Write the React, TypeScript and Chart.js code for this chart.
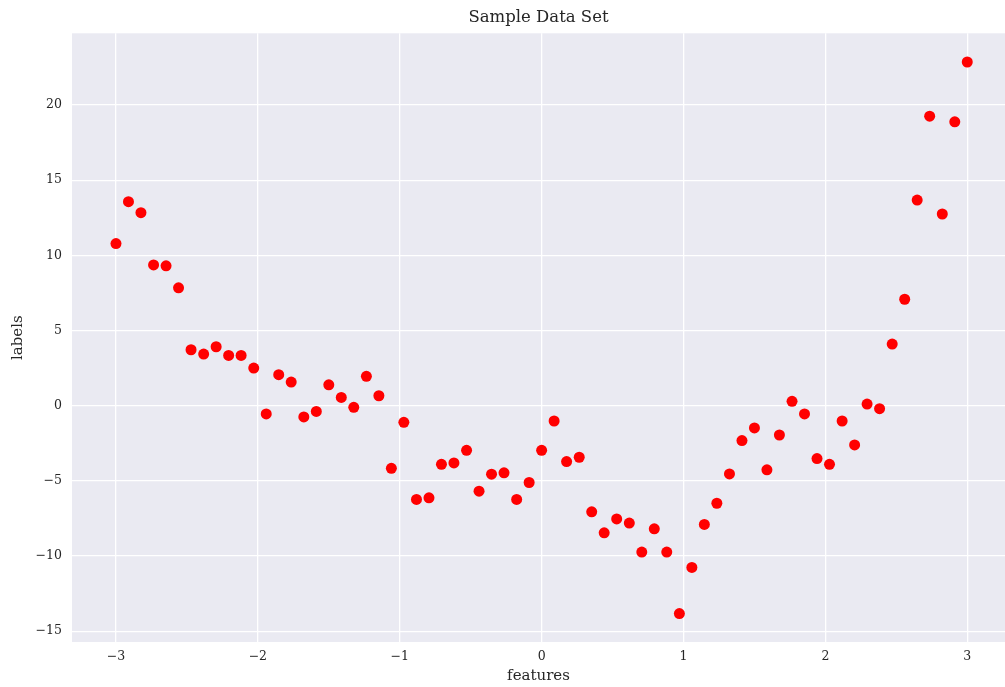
import React, { useEffect, useRef } from "react";
import { Chart, registerables } from "chart.js";

Chart.register(...registerables);

const xValues: number[] = [
  -3.0, -2.912, -2.824, -2.735, -2.647, -2.559, -2.471, -2.382, -2.294, -2.206,
  -2.118, -2.029, -1.941, -1.853, -1.765, -1.676, -1.588, -1.5, -1.412, -1.324,
  -1.235, -1.147, -1.059, -0.971, -0.882, -0.794, -0.706, -0.618, -0.529, -0.441,
  -0.353, -0.265, -0.176, -0.088, 0.0, 0.088, 0.176, 0.265, 0.353, 0.441,
  0.529, 0.618, 0.706, 0.794, 0.882, 0.971, 1.059, 1.147, 1.235, 1.324,
  1.412, 1.5, 1.588, 1.676, 1.765, 1.853, 1.941, 2.029, 2.118, 2.206,
  2.294, 2.382, 2.471, 2.559, 2.647, 2.735, 2.824, 2.912, 3.0,
];

const yValues: number[] = [
  10.78, 13.57, 12.84, 9.36, 9.3, 7.84, 3.72, 3.43, 3.92, 3.34,
  3.34, 2.5, -0.55, 2.06, 1.57, -0.75, -0.38, 1.39, 0.55, -0.11,
  1.95, 0.66, -4.17, -1.11, -6.24, -6.13, -3.9, -3.81, -2.97, -5.69,
  -4.56, -4.47, -6.24, -5.11, -2.97, -1.02, -3.72, -3.43, -7.06, -8.46,
  -7.53, -7.81, -9.74, -8.19, -9.74, -13.83, -10.76, -7.9, -6.49, -4.54,
  -2.32, -1.48, -4.27, -1.95, 0.29, -0.55, -3.52, -3.9, -1.02, -2.61,
  0.11, -0.2, 4.1, 7.08, 13.68, 19.26, 12.75, 18.88, 22.86,
];

const xTicks: number[] = [-3, -2, -1, 0, 1, 2, 3];
const yTicks: number[] = [-15, -10, -5, 0, 5, 10, 15, 20];

const titleText = "Sample Data Set";
const xLabel = "features";
const yLabel = "labels";

const fmt = (v: number) => (v < 0 ? "\u2212" + Math.abs(v) : String(v));

const bgPlugin = {
  id: "axesBg",
  beforeDraw(chart: any) {
    const { ctx, chartArea } = chart;
    if (!chartArea) return;
    ctx.save();
    ctx.fillStyle = "#EAEAF2";
    ctx.fillRect(chartArea.left, chartArea.top, chartArea.right - chartArea.left, chartArea.bottom - chartArea.top);
    ctx.restore();
  },
};

export default function App() {
  const ref = useRef<HTMLCanvasElement | null>(null);

  useEffect(() => {
    if (!ref.current) return;
    const textColor = "#262626";
    const family = "'DejaVu Serif', serif";
    const chart = new Chart(ref.current, {
      type: "scatter",
      data: {
        datasets: [
          {
            data: xValues.map((x, i) => ({ x, y: yValues[i] })),
            backgroundColor: "#ff0000",
            borderColor: "#ff0000",
            borderWidth: 0,
            pointRadius: 5.5,
            pointHoverRadius: 5.5,
          },
        ],
      },
      options: {
        animation: false,
        responsive: false,
        devicePixelRatio: 1,
        layout: { padding: 0, autoPadding: false },
        plugins: {
          legend: { display: false },
          tooltip: { enabled: false },
          title: {
            display: true,
            text: titleText,
            fullSize: false,
            color: textColor,
            font: { family, size: 16.5, weight: "normal" },
            padding: { top: 7.5, bottom: 6 },
          },
        },
        scales: {
          x: {
            type: "linear",
            min: -3.31,
            max: 3.266,
            border: { display: false },
            grid: { color: "#ffffff", lineWidth: 1.3, drawTicks: false },
            afterBuildTicks: (scale: any) => {
              scale.ticks = xTicks.map((v) => ({ value: v }));
            },
            afterFit: (scale: any) => {
              scale.height = 45;
              scale.paddingLeft = 0;
              scale.paddingRight = 0;
            },
            ticks: {
              color: textColor,
              font: { family, size: 12.5 },
              padding: 7,
              maxRotation: 0,
              callback: (v: any) => fmt(Number(v)),
            },
            title: {
              display: true,
              text: xLabel,
              color: textColor,
              font: { family, size: 15 },
              padding: { top: 0, bottom: 2 },
            },
          },
          y: {
            type: "linear",
            min: -15.72,
            max: 24.77,
            border: { display: false },
            grid: { color: "#ffffff", lineWidth: 1.3, drawTicks: false },
            afterBuildTicks: (scale: any) => {
              scale.ticks = yTicks.map((v) => ({ value: v }));
            },
            afterFit: (scale: any) => {
              scale.width = 72;
              scale.paddingTop = 0;
              scale.paddingBottom = 0;
            },
            ticks: {
              color: textColor,
              font: { family, size: 12.5 },
              padding: 10,
              callback: (v: any) => fmt(Number(v)),
            },
            title: {
              display: true,
              text: yLabel,
              color: textColor,
              font: { family, size: 15 },
              padding: { top: 9, bottom: 0 },
            },
          },
        },
      },
      plugins: [bgPlugin],
    });
    return () => chart.destroy();
  }, []);

  return (
    <div style={{ position: "fixed", left: 0, top: 0, width: 1005, height: 687, background: "#ffffff" }}>
      <canvas ref={ref} width={1005} height={687} style={{ display: "block" }} />
    </div>
  );
}
